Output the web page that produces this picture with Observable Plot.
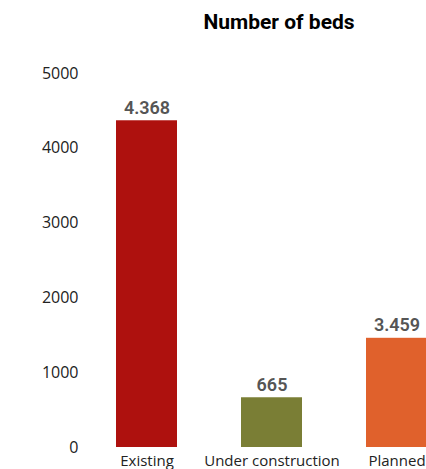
<!DOCTYPE html>
<html>
<head>
<meta charset="utf-8">
<script src="https://cdn.jsdelivr.net/npm/d3@7"></script>
<script src="https://cdn.jsdelivr.net/npm/@observablehq/plot@0.6"></script>
<style>
  html, body { margin: 0; padding: 0; background: #fff; overflow: hidden; }
  #chart { width: 426px; height: 469px; overflow: hidden; }
  #chart svg { display: block; max-width: none !important; width: 439px; height: 469px; }
</style>
</head>
<body>
<div id="chart"></div>
<script>
const categories = ["Existing", "Under construction", "Planned"];
const values = [4368, 665, 1460];
const valueLabels = ["4.368", "665", "3.459"];
const colors = ["#AE110E", "#7A7E35", "#E0612C"];
const yTicks = [0, 1000, 2000, 3000, 4000, 5000];
const title = "Number of beds";

const data = categories.map((c, i) => ({category: c, value: values[i], label: valueLabels[i], color: colors[i]}));

const chart = Plot.plot({
  width: 439,
  height: 469,
  marginLeft: 116,
  marginRight: 12,
  marginTop: 73,
  marginBottom: 22,
  style: {fontFamily: "Roboto, sans-serif", background: "#fff", overflow: "visible", maxWidth: "none"},
  x: {domain: categories, paddingInner: 0.514, paddingOuter: 0, label: null},
  y: {domain: [0, 5000], label: null},
  marks: [
    Plot.axisY({ticks: yTicks, tickSize: 0, tickPadding: 38, fontSize: 16, fill: "#222", fontFamily: "'Open Sans', sans-serif", label: null, tickFormat: d => String(d)}),
    Plot.axisX({tickSize: 0, tickPadding: 8, fontSize: 15, fill: "#222", fontFamily: "'Open Sans', sans-serif", label: null}),
    Plot.barY(data, {x: "category", y: "value", fill: "color"}),
    Plot.text(data, {x: "category", y: "value", text: "label", lineAnchor: "bottom", dy: -7, fontSize: 18, fontWeight: 600, fill: "#555"}),
    Plot.text([title], {frameAnchor: "top", dy: -51, dx: 7, fontSize: 21, fontWeight: 700, fill: "#000", lineAnchor: "middle"})
  ]
});
document.getElementById("chart").append(chart);
</script>
</body>
</html>
